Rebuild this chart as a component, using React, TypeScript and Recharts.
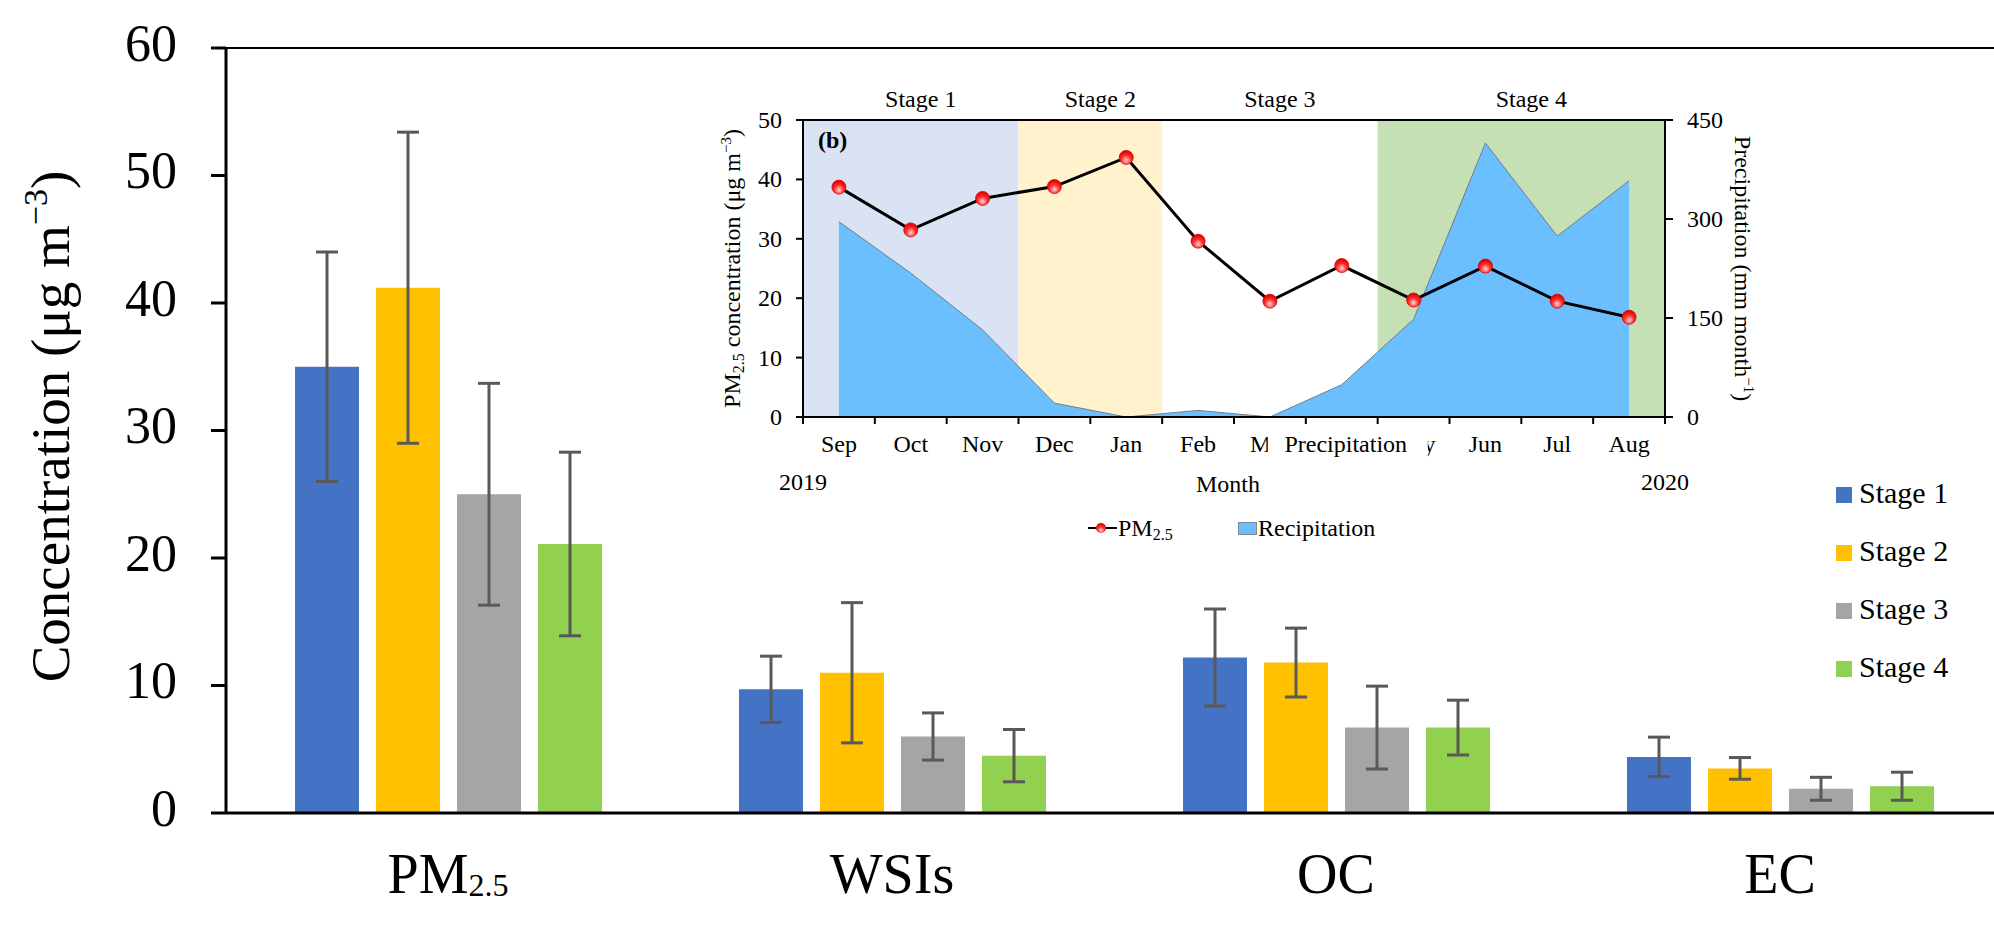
import React from "react"
import {
    BarChart, Bar, XAxis, YAxis, ErrorBar, Legend, ReferenceLine,
    ComposedChart, Area, Line, ReferenceArea,
} from "recharts"

const SERIF = '"Liberation Serif", "Times New Roman", serif'

// main bar chart: mean and SD per species and stage
const species = ["PM2.5", "WSIs", "OC", "EC"]
const stageNames = ["Stage 1", "Stage 2", "Stage 3", "Stage 4"]
const stage1 = [35.0, 9.7, 12.2, 4.4]
const stage1Sd = [9.0, 2.6, 3.8, 1.55]
const stage2 = [41.2, 11.0, 11.8, 3.5]
const stage2Sd = [12.2, 5.5, 2.7, 0.85]
const stage3 = [25.0, 6.0, 6.7, 1.9]
const stage3Sd = [8.7, 1.85, 3.25, 0.9]
const stage4 = [21.1, 4.5, 6.7, 2.1]
const stage4Sd = [7.2, 2.05, 2.15, 1.1]
const concTicks = [0, 10, 20, 30, 40, 50, 60]

// inset (b): monthly PM2.5 and precipitation
const months = ["Sep", "Oct", "Nov", "Dec", "Jan", "Feb", "Mar", "Apr", "May", "Jun", "Jul", "Aug"]
const pm25Monthly = [38.7, 31.5, 36.8, 38.8, 43.7, 29.6, 19.5, 25.5, 19.7, 25.4, 19.5, 16.8]
const precipMonthly = [296, 218, 132, 21, 0, 10, 0, 49, 148, 415, 274, 358]
const pmTicks = [0, 10, 20, 30, 40, 50]
const precipTicks = [0, 150, 300, 450]
const stageFirstMonth = ["Sep", "Dec", "Feb", "May"]
const stageLastMonth = ["Nov", "Jan", "Apr", "Aug"]
const yearStart = "2019"
const yearEnd = "2020"
// a stray "Precipitation" label sits on the month axis over Apr in the original
const axisNote = "Precipitation"
const axisNoteMonth = "Apr"

const barColors = ["#4472C4", "#FFC000", "#A5A5A5", "#92D050"]
const stageBg = ["#DAE3F3", "#FFF2CC", "#FFFFFF", "#C5E0B4"]
const stageBgOpacity = [1, 1, 0, 1]

const barData = species.map((name, i) => ({
    name,
    s1: stage1[i], s1e: stage1Sd[i],
    s2: stage2[i], s2e: stage2Sd[i],
    s3: stage3[i], s3e: stage3Sd[i],
    s4: stage4[i], s4e: stage4Sd[i],
}))

const monthData = months.map((month, i) => ({
    month,
    pm: pm25Monthly[i],
    precip: precipMonthly[i],
}))

const noteIdx = months.indexOf(axisNoteMonth)

const splitSub = (s: string) => {
    const m = s.match(/^([A-Za-z]+)(\d\.\d)$/)
    return m ? [m[1], m[2]] : [s, ""]
}

function SpeciesTick({ x, y, payload }: any) {
    const [main, sub] = splitSub(payload.value)
    return (
        <text x={x} y={y + 80} textAnchor="middle" fontSize={56} fontFamily={SERIF} fill="#000">
            {main}
            {sub && <tspan fontSize={32} dy={3}>{sub}</tspan>}
        </text>
    )
}

function ConcTick({ x, y, payload }: any) {
    return (
        <text x={x} y={y - 5} textAnchor="end" dominantBaseline="central" fontSize={52} fontFamily={SERIF} fill="#000">
            {payload.value}
        </text>
    )
}

function ConcLabel({ viewBox }: any) {
    const cy = viewBox.y + viewBox.height / 2 - 4
    return (
        <text transform={`translate(${viewBox.x + 69}, ${cy}) rotate(-90)`} textAnchor="middle" fontSize={55} fontFamily={SERIF} fill="#000">
            Concentration (μg m<tspan fontSize={34} dy={-22}>−3</tspan><tspan dy={22}>)</tspan>
        </text>
    )
}

function StageLegend({ payload }: any) {
    const items = payload || []
    return (
        <svg width={150} height={items.length * 58 + 10}>
            {items.map((p: any, i: number) => (
                <g key={p.value} transform={`translate(0, ${i * 58 + 8})`}>
                    <rect x={0} y={7} width={16} height={16} fill={p.color} />
                    <text x={23} y={23} fontSize={30} fontFamily={SERIF} fill="#000">{p.value}</text>
                </g>
            ))}
        </svg>
    )
}

function MonthTick({ x, y, payload, index, visibleTicksCount, width }: any) {
    const half = payload.offset || width / visibleTicksCount / 2
    const last = index === visibleTicksCount - 1
    // box hiding the neighbouring month names around the stray label
    const boxL = -74
    const boxR = 86
    let clip: string | undefined
    let clipRect: any = null
    if (index === noteIdx - 1) {
        clip = `mclip${index}`
        clipRect = <rect x={x - 100} y={y} width={half * 2 + boxL + 100} height={60} />
    } else if (index === noteIdx + 1) {
        clip = `mclip${index}`
        clipRect = <rect x={x - half * 2 + boxR} y={y} width={200} height={60} />
    }
    const label = index === noteIdx ? axisNote : payload.value
    return (
        <g>
            {clip && <defs><clipPath id={clip}>{clipRect}</clipPath></defs>}
            <line x1={x - half} x2={x - half} y1={y} y2={y + 7} stroke="#000" strokeWidth={2} />
            {last && <line x1={x + half} x2={x + half} y1={y} y2={y + 7} stroke="#000" strokeWidth={2} />}
            <text x={index === noteIdx ? x + 4 : x} y={y + 35} textAnchor="middle" fontSize={24} fontFamily={SERIF} fill="#000"
                clipPath={clip ? `url(#${clip})` : undefined}>{label}</text>
            {index === 0 && (
                <text x={x - half} y={y + 73} textAnchor="middle" fontSize={24} fontFamily={SERIF} fill="#000">{yearStart}</text>
            )}
            {last && (
                <text x={x + half} y={y + 73} textAnchor="middle" fontSize={24} fontFamily={SERIF} fill="#000">{yearEnd}</text>
            )}
        </g>
    )
}

function SmallTick({ x, y, payload, anchor }: any) {
    return (
        <text x={x} y={y} textAnchor={anchor} dominantBaseline="central" fontSize={24} fontFamily={SERIF} fill="#000">
            {payload.value}
        </text>
    )
}

function MonthLabel({ viewBox }: any) {
    return (
        <text x={viewBox.x + viewBox.width / 2 - 6} y={viewBox.y + 75} textAnchor="middle" fontSize={24} fontFamily={SERIF} fill="#000">
            Month
        </text>
    )
}

function PmAxisLabel({ viewBox }: any) {
    const cy = viewBox.y + viewBox.height / 2
    return (
        <text transform={`translate(${viewBox.x - 3}, ${cy}) rotate(-90)`} textAnchor="middle" fontSize={24} fontFamily={SERIF} fill="#000">
            PM<tspan fontSize={16} dy={4}>2.5</tspan><tspan dy={-4}> concentration (μg m</tspan>
            <tspan fontSize={15} dy={-9}>−3</tspan><tspan dy={9}>)</tspan>
        </text>
    )
}

function PrecipAxisLabel({ viewBox }: any) {
    const cy = viewBox.y + viewBox.height / 2
    return (
        <text transform={`translate(${viewBox.x + 70}, ${cy}) rotate(90)`} textAnchor="middle" fontSize={24} fontFamily={SERIF} fill="#000">
            Precipitation (mm month<tspan fontSize={15} dy={-9}>−1</tspan><tspan dy={9}>)</tspan>
        </text>
    )
}

function StageLabel({ viewBox, text }: any) {
    return (
        <text x={viewBox.x + viewBox.width / 2 + 10} y={viewBox.y - 13} textAnchor="middle" fontSize={24} fontFamily={SERIF} fill="#000">
            {text}
        </text>
    )
}

function PanelTag({ viewBox }: any) {
    return (
        <text x={viewBox.x + 15} y={viewBox.y + 28} fontSize={24} fontWeight="bold" fontFamily={SERIF} fill="#000">
            (b)
        </text>
    )
}

function PmDot({ cx, cy, index }: any) {
    if (cx == null || cy == null) return null
    return <circle key={index} cx={cx} cy={cy} r={7} fill="url(#pmSphere)" stroke="#e00000" strokeWidth={0.8} />
}

function InsetLegend({ payload }: any) {
    const items = [...(payload || [])].sort((a: any, b: any) => (a.dataKey === "pm" ? -1 : b.dataKey === "pm" ? 1 : 0))
    return (
        <svg width={320} height={34}>
            {items.map((p: any, i: number) => (
                <g key={String(p.dataKey)} transform={`translate(${i * 150}, 2)`}>
                    {p.dataKey === "pm" ? (
                        <>
                            <line x1={0} x2={29} y1={14} y2={14} stroke="#000" strokeWidth={2} />
                            <circle cx={13} cy={14} r={5} fill="url(#pmSphere)" />
                            <text x={30} y={22} fontSize={24} fontFamily={SERIF} fill="#000">
                                PM<tspan fontSize={16} dy={4}>2.5</tspan>
                            </text>
                        </>
                    ) : (
                        <>
                            <rect x={0.5} y={8.5} width={18} height={12} fill="#6BBFFF" stroke="#7f8c99" strokeWidth={1} />
                            <text x={20} y={22} fontSize={24} fontFamily={SERIF} fill="#000">{p.value}</text>
                        </>
                    )}
                </g>
            ))}
        </svg>
    )
}

export default function App() {
    const keys = ["s1", "s2", "s3", "s4"]
    return (
        <div style={{ position: "absolute", left: 0, top: 0, width: 1994, height: 925, overflow: "hidden", background: "#fff", fontFamily: SERIF }}>
            <svg width={0} height={0} style={{ position: "absolute" }}>
                <defs>
                    <radialGradient id="pmSphere" cx="50%" cy="70%" r="65%">
                        <stop offset="0%" stopColor="#ffd6d6" />
                        <stop offset="55%" stopColor="#ff2a2a" />
                        <stop offset="100%" stopColor="#e00000" />
                    </radialGradient>
                </defs>
            </svg>

            <div style={{ position: "absolute", left: 0, top: 0 }}>
                <BarChart width={2002} height={925} data={barData} margin={{ top: 48, right: 0, bottom: 0, left: 0 }} barSize={64} barGap={17}>
                    <XAxis dataKey="name" height={112} interval={0} tickLine={false} tickSize={0} tickMargin={0}
                        axisLine={{ stroke: "#000", strokeWidth: 3 }} tick={<SpeciesTick />} />
                    <YAxis width={226} domain={[0, 60]} ticks={concTicks} interval={0} tickSize={15} tickMargin={34}
                        axisLine={{ stroke: "#000", strokeWidth: 3 }} tickLine={{ stroke: "#000", strokeWidth: 3 }}
                        tick={<ConcTick />} label={<ConcLabel />} />
                    <ReferenceLine y={60} stroke="#000" strokeWidth={2} />
                    {keys.map((k, i) => (
                        <Bar key={k} dataKey={k} name={stageNames[i]} fill={barColors[i]} isAnimationActive={false}>
                            <ErrorBar dataKey={`${k}e`} width={11} strokeWidth={3} stroke="#595959" direction="y" />
                        </Bar>
                    ))}
                    <Legend layout="vertical" align="center" verticalAlign="middle" content={<StageLegend />}
                        wrapperStyle={{ position: "absolute", left: 1836, top: 472, width: 150 }} />
                </BarChart>
            </div>

            <div style={{ position: "absolute", left: 700, top: 80 }}>
                <ComposedChart width={1100} height={480} data={monthData} margin={{ top: 40, right: 75, bottom: 113, left: 43 }}>
                    <XAxis dataKey="month" scale="band" height={30} interval={0} tickSize={0} tickMargin={0} tickLine={false}
                        axisLine={{ stroke: "#000", strokeWidth: 2 }} tick={<MonthTick />} label={<MonthLabel />} />
                    <YAxis yAxisId="pm" width={60} domain={[0, 50]} ticks={pmTicks} interval={0} tickSize={7} tickMargin={14}
                        axisLine={{ stroke: "#000", strokeWidth: 2 }} tickLine={{ stroke: "#000", strokeWidth: 2 }}
                        tick={<SmallTick anchor="end" />} label={<PmAxisLabel />} />
                    <YAxis yAxisId="rain" orientation="right" width={60} domain={[0, 450]} ticks={precipTicks} interval={0}
                        tickSize={8} tickMargin={14}
                        axisLine={{ stroke: "#000", strokeWidth: 2 }} tickLine={{ stroke: "#000", strokeWidth: 2 }}
                        tick={<SmallTick anchor="start" />} label={<PrecipAxisLabel />} />
                    {stageNames.map((s, i) => (
                        <ReferenceArea key={s} yAxisId="pm" x1={stageFirstMonth[i]} x2={stageLastMonth[i]}
                            fill={stageBg[i]} fillOpacity={stageBgOpacity[i]} stroke="none" ifOverflow="visible"
                            label={<StageLabel text={s} />} />
                    ))}
                    <ReferenceLine yAxisId="pm" y={50} stroke="#000" strokeWidth={2} label={<PanelTag />} />
                    <Area yAxisId="rain" dataKey="precip" name="Recipitation" type="linear" fill="#6BBFFF" fillOpacity={1}
                        stroke="#6d7d8c" strokeWidth={1} dot={false} activeDot={false} isAnimationActive={false} />
                    <Line yAxisId="pm" dataKey="pm" name="PM2.5" type="linear" stroke="#000" strokeWidth={3}
                        dot={(p: any) => <PmDot key={p.index} {...p} />} activeDot={false} isAnimationActive={false} />
                    <Legend layout="vertical" align="center" verticalAlign="middle" content={<InsetLegend />}
                        wrapperStyle={{ position: "absolute", left: 388, top: 432, width: 320 }} />
                </ComposedChart>
            </div>
        </div>
    )
}
